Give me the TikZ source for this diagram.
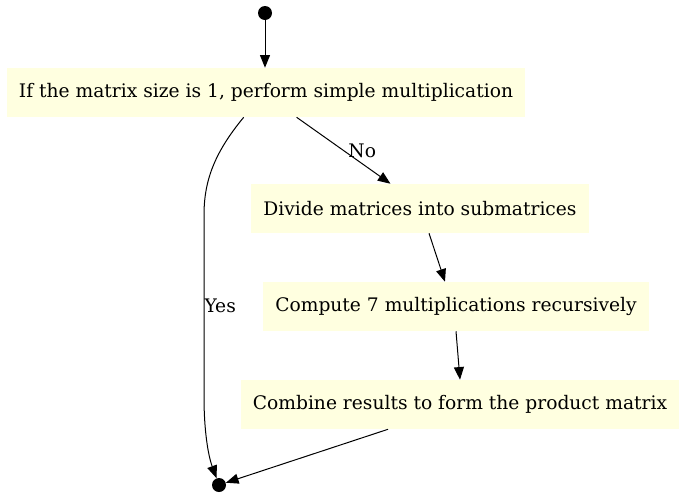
\documentclass[tikz,border=0pt]{standalone}
\usepackage{fontspec}
\setmainfont{DejaVu Serif}
\usepackage{tikz}
\usetikzlibrary{shapes,arrows.meta}
\definecolor{lightyellow}{HTML}{FFFFE0}
\tikzstyle{stepbox} = [fill=lightyellow, text centered, minimum height=36.75pt, inner xsep=9pt, font=\fontsize{14}{17}\selectfont]
\tikzstyle{dot} = [circle, fill=black, inner sep=0pt, minimum size=10.5pt]
\tikzstyle{flow} = [-{Triangle[length=9.5pt,width=7.5pt]}, black, line width=0.75pt]
\tikzstyle{lbl} = [font=\fontsize{14}{17}\selectfont]

\begin{document}
\begin{tikzpicture}[x=0.75pt,y=-0.75pt]
	\useasboundingbox (0,0) rectangle (686,497);
	\node[dot] (start) at (265,13) {};
	\node[stepbox] (size) at (266,92.5) {If the matrix size is 1, perform simple multiplication};
	\node[stepbox] (divide) at (420,208.5) {Divide matrices into submatrices};
	\node[stepbox] (compute) at (456,306.5) {Compute 7 multiplications recursively};
	\node[stepbox] (combine) at (460,404.5) {Combine results to form the product matrix};
	\node[dot] (end) at (219,485) {};
	\draw [flow](start) -- (size.north -| start);
	\draw [flow](size.321.7) -- node[lbl, right, xshift=0pt] {No} (divide.140.8);
	\draw [flow](divide.290.2) -- (compute.114.2);
	\draw [flow](compute.south) -- (combine.north);
	\draw [flow](combine.199) -- (end);
	\draw [flow](size.228) .. controls (215,152) and (204,180) .. (204,215) -- node[lbl, right, inner sep=0pt, pos=0.5] {Yes} (204,397) .. controls (204,430) and (208,455) .. (end);
\end{tikzpicture}
\end{document}
